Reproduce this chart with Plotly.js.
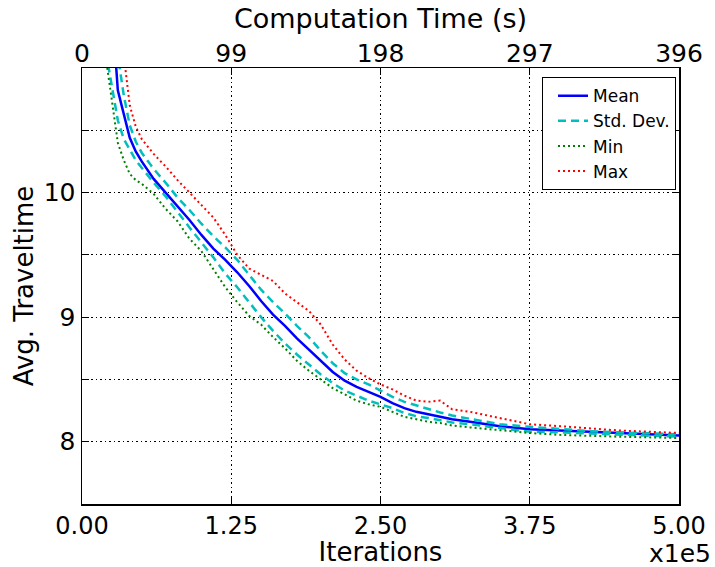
<!DOCTYPE html>
<html>
<head>
<meta charset="utf-8">
<script src="https://cdn.plot.ly/plotly-3.0.1.min.js"></script>
<style>html,body{margin:0;padding:0;background:#fff;}#chart{width:715px;height:567px;}</style>
</head>
<body>
<div id="chart"></div>
<script>
// Iterations in units of 1e5
const iterations = [0.2, 0.25, 0.3, 0.35, 0.4, 0.45, 0.5, 0.6, 0.7, 0.8, 0.9, 1.0, 1.1, 1.2, 1.3, 1.4, 1.5, 1.6, 1.7, 1.8, 1.9, 2.0, 2.1, 2.2, 2.3, 2.4, 2.5, 2.6, 2.7, 2.8, 2.9, 3.0, 3.1, 3.25, 3.5, 3.75, 4.0, 4.25, 4.5, 4.75, 5.0];
const meanVals = [12.0, 11.5, 10.82, 10.62, 10.44, 10.33, 10.25, 10.11, 10.0, 9.89, 9.78, 9.66, 9.55, 9.46, 9.36, 9.25, 9.13, 9.02, 8.93, 8.83, 8.74, 8.65, 8.56, 8.49, 8.44, 8.40, 8.36, 8.31, 8.27, 8.24, 8.22, 8.20, 8.18, 8.16, 8.125, 8.10, 8.09, 8.075, 8.065, 8.055, 8.05];
const stdUpper = [12.3, 11.8, 11.1, 10.78, 10.54, 10.41, 10.32, 10.19, 10.08, 9.96, 9.86, 9.75, 9.65, 9.56, 9.46, 9.34, 9.22, 9.12, 9.03, 8.93, 8.84, 8.73, 8.63, 8.55, 8.50, 8.46, 8.41, 8.36, 8.32, 8.29, 8.26, 8.235, 8.21, 8.185, 8.14, 8.12, 8.10, 8.085, 8.075, 8.065, 8.06];
const stdLower = [11.13, 10.86, 10.58, 10.43, 10.34, 10.26, 10.2, 10.08, 9.97, 9.84, 9.72, 9.60, 9.48, 9.35, 9.24, 9.12, 9.0, 8.89, 8.79, 8.70, 8.62, 8.54, 8.47, 8.41, 8.37, 8.33, 8.30, 8.27, 8.23, 8.205, 8.19, 8.17, 8.155, 8.14, 8.11, 8.08, 8.075, 8.065, 8.055, 8.05, 8.04];
const minVals = [11.08, 10.75, 10.40, 10.26, 10.15, 10.10, 10.07, 9.99, 9.87, 9.77, 9.63, 9.53, 9.38, 9.24, 9.12, 9.01, 8.94, 8.84, 8.75, 8.65, 8.57, 8.50, 8.43, 8.38, 8.33, 8.30, 8.28, 8.24, 8.20, 8.18, 8.16, 8.15, 8.13, 8.115, 8.09, 8.07, 8.055, 8.045, 8.04, 8.035, 8.03];
const maxVals = [12.5, 12.0, 11.5, 11.1, 10.70, 10.53, 10.43, 10.31, 10.21, 10.10, 10.0, 9.90, 9.80, 9.66, 9.50, 9.39, 9.34, 9.29, 9.19, 9.12, 9.05, 8.94, 8.78, 8.66, 8.57, 8.51, 8.46, 8.42, 8.37, 8.33, 8.32, 8.33, 8.26, 8.24, 8.19, 8.14, 8.125, 8.105, 8.09, 8.08, 8.07];

const xTickVals = [0, 1.25, 2.5, 3.75, 5];
const xTickText = ['0.00', '1.25', '2.50', '3.75', '5.00'];
const yTickVals = [8, 8.5, 9, 9.5, 10, 10.5];
const yTickText = ['8', '', '9', '', '10', ''];
const timeTickVals = [0, 99, 198, 297, 396];
const timeTickText = ['0', '99', '198', '297', '396'];

const FONT = 'DejaVu Sans, sans-serif';

const traces = [
  {x: iterations, y: meanVals, name: 'Mean', mode: 'lines', line: {color: '#0000ff', width: 2.5}},
  {x: iterations, y: stdUpper, name: 'Std. Dev.', mode: 'lines', legendgroup: 'std', line: {color: '#00bfbf', width: 2.5, dash: '8px,5px'}},
  {x: iterations, y: stdLower, name: 'Std. Dev.', mode: 'lines', legendgroup: 'std', showlegend: false, line: {color: '#00bfbf', width: 2.5, dash: '8px,5px'}},
  {x: iterations, y: minVals, name: 'Min', mode: 'lines', line: {color: '#008000', width: 2, dash: '2px,3px'}},
  {x: iterations, y: maxVals, name: 'Max', mode: 'lines', line: {color: '#ff0000', width: 2, dash: '2px,3px'}},
  // carrier for the top (computation time) axis; draws nothing
  {x: timeTickVals, y: timeTickVals.map(() => null), xaxis: 'x2', yaxis: 'y', mode: 'lines',
   showlegend: false, hoverinfo: 'skip', line: {width: 0}}
];

const layout = {
  width: 715, height: 567,
  margin: {l: 82, r: 36, t: 68, b: 63},
  paper_bgcolor: '#ffffff', plot_bgcolor: '#ffffff',
  font: {family: FONT, color: '#000000', size: 25},
  showlegend: true,
  legend: {
    x: 0.995, y: 0.979, xanchor: 'right', yanchor: 'top',
    bgcolor: '#ffffff', bordercolor: '#000000', borderwidth: 1,
    font: {family: FONT, size: 17, color: '#000000'},
    tracegroupgap: 0, itemwidth: 30, indentation: 10
  },
  xaxis: {
    range: [0, 5], tickvals: xTickVals, ticktext: xTickText,
    showgrid: true, gridcolor: '#000000', gridwidth: 1, griddash: '1.5px,3px',
    zeroline: false, showline: true, linecolor: '#000000', linewidth: 1.5,
    mirror: 'ticks', ticks: 'inside', ticklen: 7, tickwidth: 1, tickcolor: '#000000',
    tickfont: {family: FONT, size: 24},
    title: {text: 'Iterations', font: {family: FONT, size: 26}}
  },
  xaxis2: {
    range: [0, 396], overlaying: 'x', side: 'top', anchor: 'y',
    tickvals: timeTickVals, ticktext: timeTickText,
    showgrid: false, zeroline: false, showline: false,
    ticks: 'inside', ticklen: 7, tickwidth: 1, tickcolor: '#000000',
    tickfont: {family: FONT, size: 25},
    title: {text: 'Computation Time (s)', font: {family: FONT, size: 27}, standoff: 2}
  },
  yaxis: {
    range: [7.5, 11], tickvals: yTickVals, ticktext: yTickText,
    showgrid: true, gridcolor: '#000000', gridwidth: 1, griddash: '1.5px,3px',
    zeroline: false, showline: true, linecolor: '#000000', linewidth: 1.5,
    mirror: 'ticks', ticks: 'inside', ticklen: 7, tickwidth: 1, tickcolor: '#000000',
    tickfont: {family: FONT, size: 25},
    title: {text: 'Avg. Traveltime', font: {family: FONT, size: 26}, standoff: 2}
  },
  annotations: [
    {text: 'x1e5', xref: 'paper', yref: 'paper', x: 1.057, y: -0.114, xanchor: 'right', yanchor: 'middle',
     showarrow: false, font: {family: FONT, size: 25, color: '#000000'}}
  ]
};

Plotly.newPlot('chart', traces, layout, {staticPlot: true, displayModeBar: false});
</script>
</body>
</html>
